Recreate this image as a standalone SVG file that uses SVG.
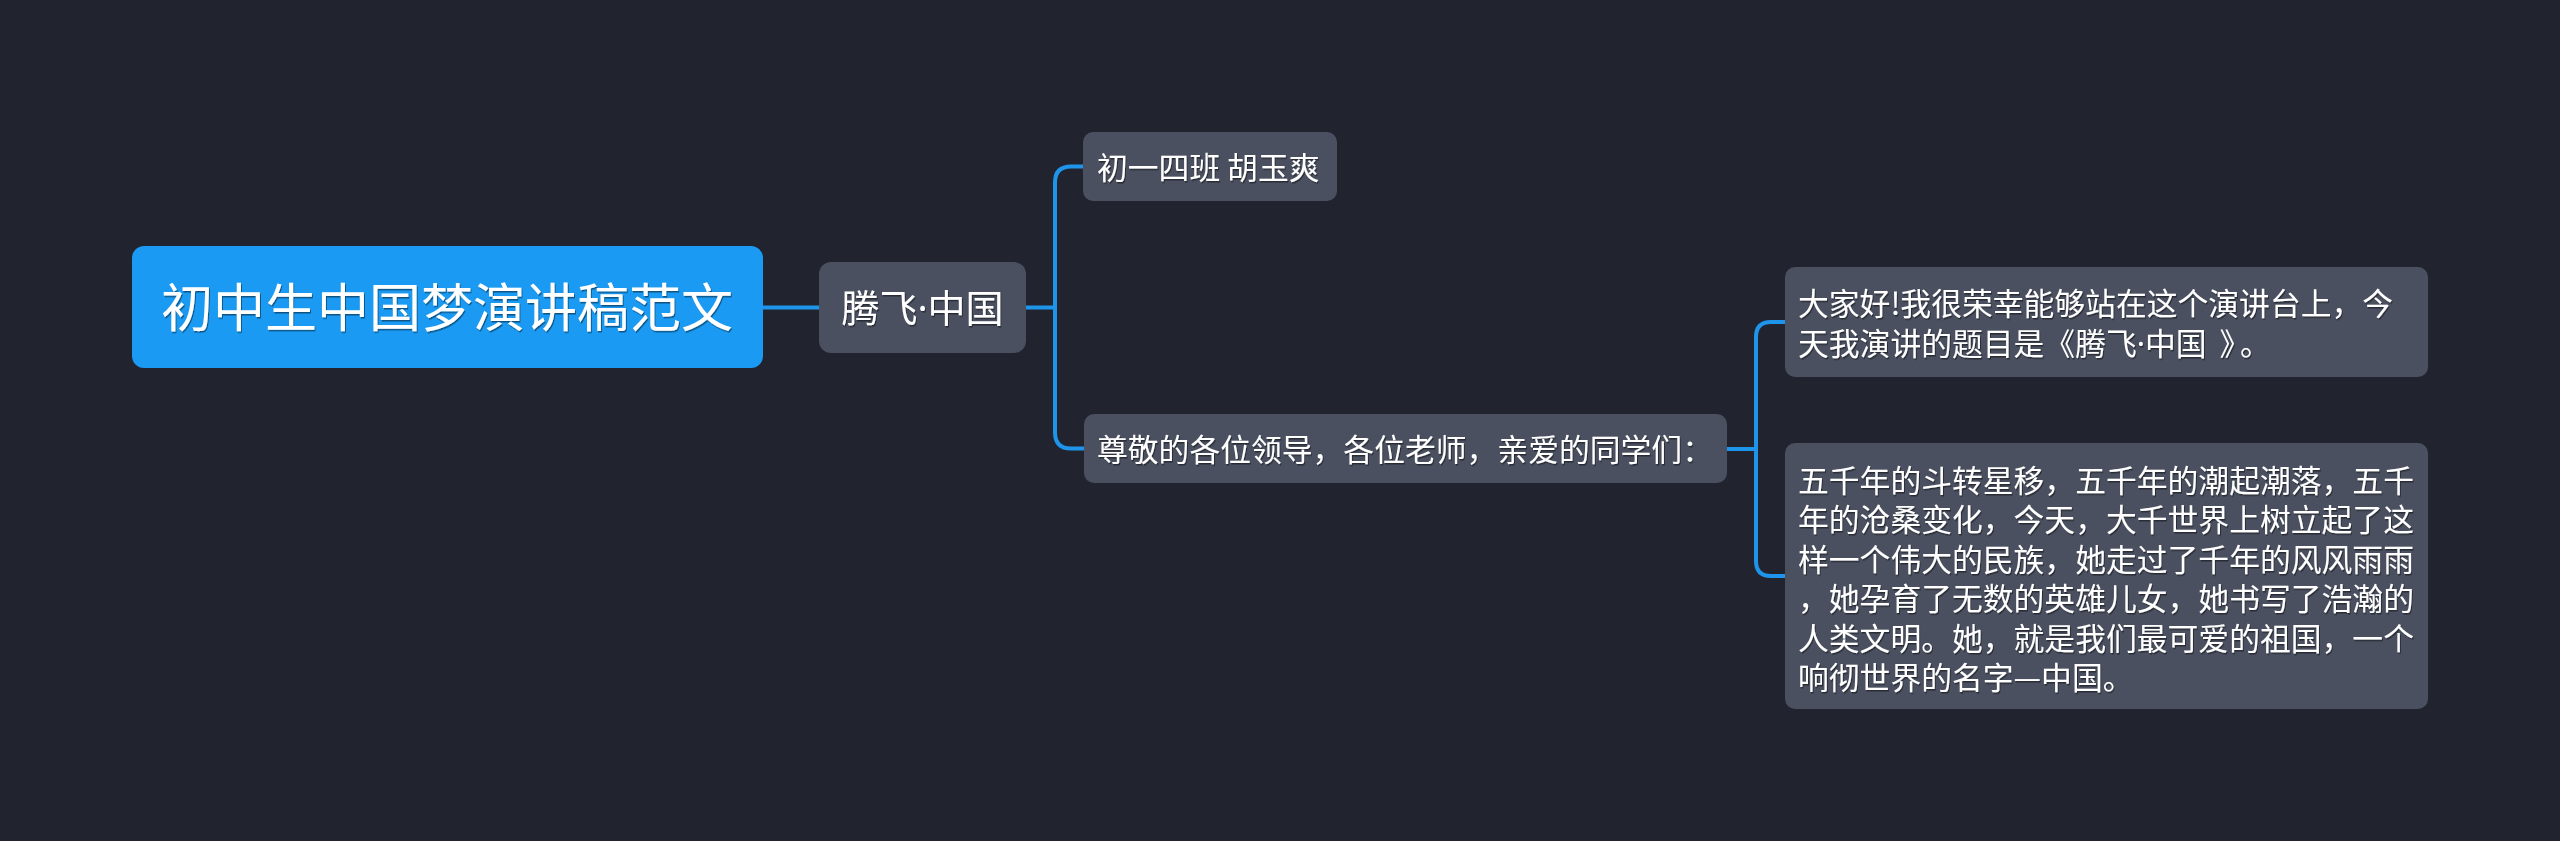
<svg xmlns="http://www.w3.org/2000/svg" width="2560" height="841" viewBox="0 0 2560 841">
  <defs>
    <filter id="ts" x="-5%" y="-20%" width="110%" height="140%">
      <feDropShadow dx="1" dy="1.5" stdDeviation="0.6" flood-color="#000" flood-opacity="0.45"/>
    </filter>
  </defs>
  <style>
    .bg { fill: #21242f; }
    .root { fill: #1a9af2; }
    .node { fill: #4a5060; }
    .t { font-family: "Noto Sans CJK SC", "Noto Sans", sans-serif; fill: #ffffff; filter: url(#ts); }
    .t1 { font-size: 52px; }
    .t2 { font-size: 38px; }
    .t3 { font-size: 30.8px; }
    .dot { font-family: "Noto Sans", sans-serif; }
    .edge { fill: none; stroke: #1e95ea; stroke-width: 4; stroke-linecap: round; stroke-linejoin: round; }
  </style>
  <rect class="bg" x="0" y="0" width="2560" height="841"/>

  <g id="connectors">
    <path class="edge" d="M763 307.5 H819"/>
    <path class="edge" d="M1026 307.5 H1055 V182.5 Q1055 166.5 1071 166.5 H1083"/>
    <path class="edge" d="M1055 307.5 V432.5 Q1055 448.5 1071 448.5 H1084"/>
    <path class="edge" d="M1727 449 H1756 V337 Q1756 322 1771 322 H1785"/>
    <path class="edge" d="M1756 449 V561 Q1756 576 1771 576 H1785"/>
  </g>

  <g id="node-root">
    <rect class="root" x="132" y="246" width="631" height="122" rx="12" ry="12"/>
    <text class="t t1" x="447" y="326.5" text-anchor="middle">初中生中国梦演讲稿范文</text>
  </g>

  <g id="node-tengfei">
    <rect class="node" x="819" y="262" width="207" height="91" rx="12" ry="12"/>
    <text class="t t2" x="922.5" y="322" text-anchor="middle">腾飞<tspan class="dot">·</tspan>中国</text>
  </g>

  <g id="node-class">
    <rect class="node" x="1083" y="132" width="254" height="69" rx="10" ry="10"/>
    <text class="t t3" x="1097" y="179">初一四班 胡玉爽</text>
  </g>

  <g id="node-greeting">
    <rect class="node" x="1084" y="414" width="643" height="69" rx="10" ry="10"/>
    <text class="t t3" x="1097" y="460.5">尊敬的各位领导，各位老师，亲爱的同学们：</text>
  </g>

  <g id="node-hello">
    <rect class="node" x="1785" y="267" width="643" height="110" rx="10" ry="10"/>
    <text class="t t3" x="1798">
      <tspan x="1798" y="315">大家好!我很荣幸能够站在这个演讲台上，今</tspan>
      <tspan x="1798" y="354.5">天我演讲的题目是《腾飞<tspan class="dot">·</tspan>中国 <tspan dx="6">》</tspan><tspan dx="5">。</tspan></tspan>
    </text>
  </g>

  <g id="node-history">
    <rect class="node" x="1785" y="443" width="643" height="266" rx="10" ry="10"/>
    <text class="t t3" x="1798">
      <tspan x="1798" y="492">五千年的斗转星移，五千年的潮起潮落，五千</tspan>
      <tspan x="1798" y="531.4">年的沧桑变化，今天，大千世界上树立起了这</tspan>
      <tspan x="1798" y="570.8">样一个伟大的民族，她走过了千年的风风雨雨</tspan>
      <tspan x="1798" y="610.2">，她孕育了无数的英雄儿女，她书写了浩瀚的</tspan>
      <tspan x="1798" y="649.6">人类文明。她，就是我们最可爱的祖国，一个</tspan>
      <tspan x="1798" y="689">响彻世界的名字—中国。</tspan>
    </text>
  </g>
</svg>
